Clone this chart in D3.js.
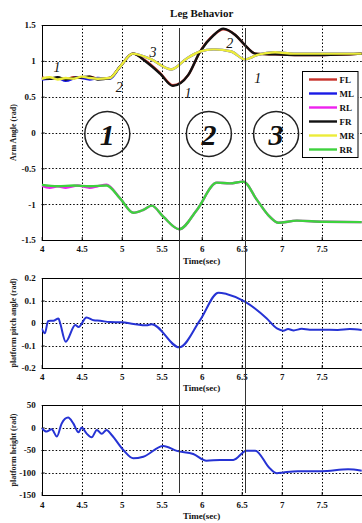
<!DOCTYPE html>
<html>
<head>
<meta charset="utf-8">
<script src="https://cdn.jsdelivr.net/npm/d3@7"></script>
<style>
  body { margin: 0; background: #fff; }
  svg { display: block; }
</style>
</head>
<body>
<script>
// ---- data ----
const timeTicks = [4, 4.5, 5, 5.5, 6, 6.5, 7, 7.5]
const armTicks = [-1.5, -1, -0.5, 0, 0.5, 1, 1.5]
const pitchTicks = [-0.2, -0.1, 0, 0.1, 0.2]
const heightTicks = [-150, -100, -50, 0, 50]
const phaseMarks = [5.72, 6.54]

const legNames = ['FL', 'ML', 'RL', 'FR', 'MR', 'RR']
const legColors = ['#c8322a', '#1a1ae6', '#ee22ee', '#111111', '#ecec3a', '#3ed23e']

const flT = [4.0, 4.08, 4.2, 4.3, 4.4, 4.5, 4.6, 4.7, 4.85, 4.98, 5.14, 5.3, 5.48, 5.64, 5.83, 5.98, 6.15, 6.27, 6.42, 6.54, 6.67, 6.92, 7.2, 7.52, 8.0]
const flV = [0.77, 0.75, 0.76, 0.74, 0.77, 0.76, 0.78, 0.75, 0.76, 0.92, 1.1, 1.0, 0.83, 0.66, 0.8, 1.13, 1.36, 1.44, 1.36, 1.22, 1.1, 1.09, 1.08, 1.08, 1.1]
const mlT = [4.0, 4.1, 4.2, 4.3, 4.45, 4.6, 4.7, 4.85, 4.98, 5.14, 5.35, 5.62, 5.81, 5.98, 6.15, 6.37, 6.54, 6.69, 6.92, 7.15, 7.5, 8.0]
const mlV = [0.74, 0.75, 0.76, 0.72, 0.77, 0.74, 0.76, 0.75, 0.92, 1.1, 1.03, 0.88, 1.03, 1.13, 1.16, 1.13, 1.02, 1.08, 1.12, 1.1, 1.1, 1.1]
const rlT = [4.0, 4.1, 4.2, 4.3, 4.45, 4.6, 4.7, 4.81, 4.98, 5.145, 5.27, 5.375, 5.52, 5.72, 5.94, 6.19, 6.35, 6.52, 6.69, 6.85, 6.96, 7.19, 7.52, 8.0]
const rlV = [-0.74, -0.77, -0.75, -0.77, -0.74, -0.77, -0.75, -0.73, -0.92, -1.12, -1.08, -1.02, -1.175, -1.35, -1.08, -0.7, -0.71, -0.685, -0.94, -1.175, -1.26, -1.23, -1.245, -1.25]
const frT = [4.0, 4.1, 4.2, 4.3, 4.4, 4.5, 4.6, 4.7, 4.85, 4.98, 5.14, 5.3, 5.48, 5.64, 5.83, 5.98, 6.15, 6.27, 6.42, 6.54, 6.67, 6.92, 7.2, 7.52, 8.0]
const frV = [0.76, 0.75, 0.77, 0.74, 0.76, 0.77, 0.78, 0.74, 0.76, 0.92, 1.1, 0.99, 0.82, 0.65, 0.8, 1.13, 1.36, 1.45, 1.36, 1.22, 1.1, 1.09, 1.08, 1.08, 1.1]
const mrT = [4.0, 4.1, 4.2, 4.3, 4.4, 4.5, 4.6, 4.7, 4.85, 4.98, 5.14, 5.35, 5.62, 5.81, 5.98, 6.15, 6.37, 6.54, 6.69, 6.92, 7.15, 7.5, 8.0]
const mrV = [0.75, 0.77, 0.74, 0.76, 0.75, 0.78, 0.76, 0.75, 0.76, 0.92, 1.1, 1.03, 0.88, 1.03, 1.13, 1.16, 1.13, 1.02, 1.08, 1.12, 1.1, 1.1, 1.1]
const rrT = [4.0, 4.2, 4.4, 4.6, 4.81, 4.98, 5.145, 5.27, 5.375, 5.52, 5.72, 5.94, 6.19, 6.35, 6.52, 6.69, 6.85, 6.96, 7.19, 7.52, 8.0]
const rrV = [-0.73, -0.75, -0.74, -0.75, -0.74, -0.92, -1.12, -1.08, -1.02, -1.175, -1.35, -1.08, -0.7, -0.71, -0.685, -0.94, -1.175, -1.26, -1.23, -1.245, -1.25]

const pitchT = [4.0, 4.04, 4.08, 4.145, 4.21, 4.23, 4.3, 4.42, 4.46, 4.56, 4.65, 4.73, 4.85, 5.0, 5.15, 5.31, 5.375, 5.72, 5.98, 6.21, 6.31, 6.54, 6.81, 6.94, 7.02, 7.08, 7.15, 7.25, 7.35, 7.5, 7.7, 7.85, 8.0]
const pitchV = [-0.024, -0.046, 0.009, 0.01, 0.02, 0.0, -0.083, -0.009, -0.018, 0.025, 0.012, 0.01, 0.004, 0.003, -0.004, -0.01, -0.005, -0.108, 0.013, 0.135, 0.129, 0.095, 0.021, -0.024, -0.034, -0.027, -0.033, -0.026, -0.03, -0.03, -0.031, -0.027, -0.031]

const heightT = [4.0, 4.06, 4.125, 4.19, 4.25, 4.33, 4.395, 4.46, 4.5, 4.56, 4.625, 4.69, 4.75, 4.81, 4.875, 5.02, 5.145, 5.27, 5.52, 5.69, 5.895, 6.06, 6.23, 6.395, 6.56, 6.67, 6.85, 6.94, 7.02, 7.2, 7.5, 7.83, 8.0]
const heightV = [-1.5, -9, -4, -20, 9, 22, 9, -10.7, 0, -13, -21.8, -5.5, -14, -5.5, -16.7, -50, -68.5, -65, -41, -52, -59, -74, -72, -72, -51.5, -51.5, -90.7, -101.8, -100, -97, -97, -93, -96]

// phase circles and small step numbers on the arm-angle panel
const phaseLabels = ['1', '2', '3']
const phaseT = [4.82, 6.09, 6.93]
const stepLabels = ['1', '2', '3', '1', '2', '1']
const stepT = [4.19, 4.97, 5.39, 5.83, 6.35, 6.70]
const stepV = [0.91, 0.635, 1.12, 0.55, 1.25, 0.76]

// ---- drawing ----
const W = 362, H = 523
const font = "'Liberation Serif', 'DejaVu Serif', serif"

const svg = d3.select('body').append('svg')
  .attr('width', W).attr('height', H)
  .attr('viewBox', `0 0 ${W} ${H}`)

const x = d3.scaleLinear().domain([4, 8]).range([41.7, 361.7])
const snap = v => Math.round(v) + 0.5

const zip = (ts, vs) => ts.map((t, i) => [t, vs[i]])

const panels = [
  { id: 'arm', domain: [-1.5, 1.5], range: [240, 25], ticks: armTicks, label: 'Arm Angle (rad)', tickY: 252, timeY: 264 },
  { id: 'pitch', domain: [-0.2, 0.2], range: [368, 278], ticks: pitchTicks, label: 'platform pitch angle (rad)', tickY: 380, timeY: 391 },
  { id: 'height', domain: [-150, 50], range: [495, 405], ticks: heightTicks, label: 'platform height (rad)', tickY: 508, timeY: 519 }
]

panels.forEach(p => {
  p.y = d3.scaleLinear().domain(p.domain).range(p.range)
  const top = p.range[1], bottom = p.range[0]
  const g = svg.append('g').attr('class', p.id)

  g.append('clipPath').attr('id', 'clip-' + p.id)
    .append('rect').attr('x', x(4)).attr('y', top).attr('width', W - x(4)).attr('height', bottom - top)

  // dotted grid
  g.selectAll('.vgrid').data(timeTicks.slice(1)).join('line')
    .attr('x1', d => snap(x(d))).attr('x2', d => snap(x(d)))
    .attr('y1', top).attr('y2', bottom)
    .attr('stroke', '#000').attr('stroke-width', 1)
    .attr('stroke-dasharray', '1.5,2')
  g.selectAll('.hgrid').data(p.ticks.slice(1, -1)).join('line')
    .attr('x1', x(4)).attr('x2', W)
    .attr('y1', d => snap(p.y(d))).attr('y2', d => snap(p.y(d)))
    .attr('stroke', '#000').attr('stroke-width', 1)
    .attr('stroke-dasharray', '1.5,2')

  // axes (ticks inward, MATLAB style)
  const yAxis = d3.axisLeft(p.y).tickValues(p.ticks).tickSizeInner(-3).tickSizeOuter(0).tickPadding(6)
    .tickFormat(d => String(d))
  const ya = g.append('g').attr('transform', `translate(${x(4)},0)`).call(yAxis)
  const xAxis = d3.axisBottom(x).tickValues(timeTicks).tickSizeInner(-3).tickSizeOuter(0).tickPadding(6)
    .tickFormat(d => String(d))
  const xa = g.append('g').attr('transform', `translate(0,${bottom})`).call(xAxis)
  ;[ya, xa].forEach(a => {
    a.select('.domain').remove()
    a.selectAll('.tick line').attr('stroke', '#000')
    a.selectAll('text').attr('font-family', font).attr('font-weight', 'bold')
      .attr('font-size', 9).attr('fill', '#111')
  })
  xa.selectAll('text').attr('y', null).attr('dy', null)
    .attr('transform', `translate(0,${p.tickY - bottom})`)

  // box (top, left, bottom; right edge falls off the picture)
  g.append('path')
    .attr('d', `M${W},${top + 0.5}H${snap(x(4))}V${bottom + 0.5}H${W}`)
    .attr('fill', 'none').attr('stroke', '#000').attr('stroke-width', 1)

  g.append('text')
    .attr('x', x(6)).attr('y', p.timeY)
    .attr('text-anchor', 'middle')
    .attr('font-family', font).attr('font-weight', 'bold').attr('font-size', 9)
    .attr('fill', '#111')
    .text('Time(sec)')

  g.append('text')
    .attr('transform', `translate(16,${(top + bottom) / 2}) rotate(-90)`)
    .attr('text-anchor', 'middle')
    .attr('font-family', font).attr('font-weight', 'bold').attr('font-size', 8)
    .attr('fill', '#222')
    .text(p.label)

  p.g = g
})

const [armP, pitchP, heightP] = panels

// arm angle lines
const armData = [zip(flT, flV), zip(mlT, mlV), zip(rlT, rlV), zip(frT, frV), zip(mrT, mrV), zip(rrT, rrV)]
const armLine = d3.line().x(d => x(d[0])).y(d => armP.y(d[1])).curve(d3.curveMonotoneX)
armP.g.append('g').attr('clip-path', 'url(#clip-arm)')
  .selectAll('path').data(armData).join('path')
  .attr('d', armLine)
  .attr('fill', 'none')
  .attr('stroke', (_, i) => legColors[i])
  .attr('stroke-width', 2.4)
  .attr('stroke-linejoin', 'round')

// step numbers
armP.g.selectAll('.step').data(stepLabels).join('text')
  .attr('x', (_, i) => x(stepT[i])).attr('y', (_, i) => armP.y(stepV[i]))
  .attr('dy', '0.35em')
  .attr('text-anchor', 'middle')
  .attr('font-family', font).attr('font-style', 'italic').attr('font-size', 14)
  .attr('fill', '#111')
  .text(d => d)

// phase circles
const phase = armP.g.selectAll('.phase').data(phaseLabels).join('g')
  .attr('transform', (_, i) => `translate(${x(phaseT[i])},${armP.y(-0.02)})`)
phase.append('circle').attr('r', 22.5)
  .attr('fill', 'none').attr('stroke', '#222').attr('stroke-width', 1.5)
phase.append('text')
  .attr('dy', '0.36em').attr('text-anchor', 'middle')
  .attr('font-family', font).attr('font-style', 'italic').attr('font-weight', 'bold')
  .attr('font-size', 30).attr('fill', '#111')
  .text(d => d)

// legend
const lg = armP.g.append('g').attr('transform', 'translate(302.5,71.5)')
lg.append('rect').attr('width', 55.5).attr('height', 86)
  .attr('fill', '#fff').attr('stroke', '#000').attr('stroke-width', 1)
const li = lg.selectAll('.item').data(legNames).join('g')
  .attr('transform', (_, i) => `translate(0,${8 + i * 14})`)
li.append('line').attr('x1', 6.5).attr('x2', 34.5)
  .attr('stroke', (_, i) => legColors[i]).attr('stroke-width', 2.4)
li.append('text').attr('x', 37).attr('dy', '0.35em')
  .attr('font-family', font).attr('font-weight', 'bold').attr('font-size', 9)
  .attr('fill', '#111')
  .text(d => d)

// pitch and height
const pitchLine = d3.line().x(d => x(d[0])).y(d => pitchP.y(d[1])).curve(d3.curveMonotoneX)
pitchP.g.append('path').datum(zip(pitchT, pitchV))
  .attr('clip-path', 'url(#clip-pitch)')
  .attr('d', pitchLine).attr('fill', 'none')
  .attr('stroke', '#2633d4').attr('stroke-width', 2)

const heightLine = d3.line().x(d => x(d[0])).y(d => heightP.y(d[1])).curve(d3.curveMonotoneX)
heightP.g.append('path').datum(zip(heightT, heightV))
  .attr('clip-path', 'url(#clip-height)')
  .attr('d', heightLine).attr('fill', 'none')
  .attr('stroke', '#2633d4').attr('stroke-width', 2)

// phase boundary markers across all panels
svg.selectAll('.mark').data(phaseMarks).join('line')
  .attr('x1', d => snap(x(d))).attr('x2', d => snap(x(d)))
  .attr('y1', 28).attr('y2', 493)
  .attr('stroke', '#333').attr('stroke-width', 1)

// title
svg.append('text')
  .attr('x', x(6)).attr('y', 17)
  .attr('text-anchor', 'middle')
  .attr('font-family', font).attr('font-weight', 'bold').attr('font-size', 11)
  .attr('fill', '#111')
  .text('Leg Behavior')
</script>
</body>
</html>
